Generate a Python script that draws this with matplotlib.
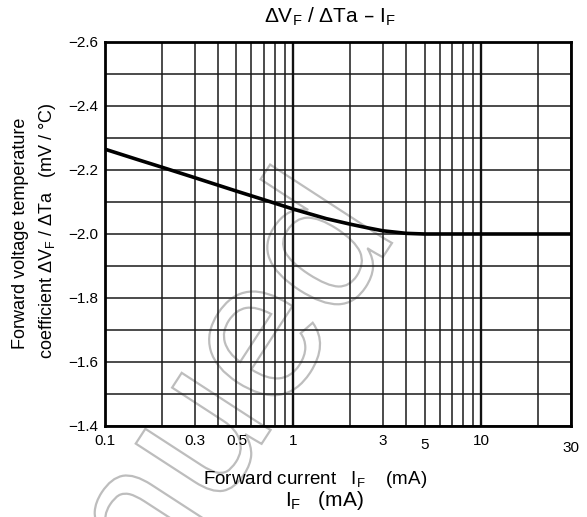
import matplotlib
matplotlib.use("Agg")
import matplotlib.pyplot as plt
import matplotlib.transforms as mtransforms
from matplotlib.textpath import TextPath
from matplotlib.patches import PathPatch
from matplotlib.font_manager import FontProperties
from matplotlib.ticker import FixedLocator, NullFormatter

plt.rcParams['font.family'] = ['Liberation Sans', 'DejaVu Sans']
plt.rcParams['mathtext.default'] = 'regular'

# forward current (mA) and temperature coefficient (mV/°C)
i_f = [0.1, 0.15, 0.2, 0.3, 0.5, 0.7, 1, 1.5, 2, 2.5, 3, 4, 5, 10, 30]
dvf_dta = [-2.265, -2.232, -2.209, -2.176, -2.134, -2.107, -2.078, -2.048,
           -2.031, -2.019, -2.01, -2.002, -2.0, -2.0, -2.0]

x_ticks = [0.1, 0.3, 0.5, 1, 3, 5, 10, 30]
x_tick_labels = ['0.1', '0.3', '0.5', '1', '3', '5', '10', '30']
x_minor = [0.2, 0.4, 0.6, 0.7, 0.8, 0.9, 2, 4, 6, 7, 8, 9, 20]
y_ticks = [-2.6, -2.4, -2.2, -2.0, -1.8, -1.6, -1.4]
y_minor = [-2.5, -2.3, -2.1, -1.9, -1.7, -1.5]

W, H = 587, 517
fig = plt.figure(figsize=(W / 100, H / 100), dpi=100)
ax = fig.add_axes([105 / W, (H - 426) / H, (571 - 105) / W, (426 - 42) / H])

ax.set_xscale('log')
ax.set_xlim(0.1, 30)
ax.set_ylim(-1.4, -2.6)

ax.xaxis.set_major_locator(FixedLocator(x_ticks))
ax.xaxis.set_minor_locator(FixedLocator(x_minor))
ax.xaxis.set_minor_formatter(NullFormatter())
ax.set_xticks(x_ticks, x_tick_labels)
ax.yaxis.set_major_locator(FixedLocator(y_ticks))
ax.yaxis.set_minor_locator(FixedLocator(y_minor))
ax.set_yticks(y_ticks, ['\u2212%.1f' % abs(v) for v in y_ticks])

ax.tick_params(which='both', length=0)
ax.tick_params(axis='x', labelsize=11, pad=6)
ax.tick_params(axis='y', labelsize=11, pad=5)

# grid: thin lines everywhere, heavier at the decades
ax.grid(which='both', axis='both', color='#1a1a1a', linewidth=1.1)
for v in [1, 10]:
    ax.axvline(v, color='#111111', linewidth=1.7, zorder=1.6)

for sp in ax.spines.values():
    sp.set_linewidth(2.0)
    sp.set_color('black')

ax.plot(i_f, dvf_dta, color='black', linewidth=2.6, zorder=3,
        solid_capstyle='butt', solid_joinstyle='round')

# a couple of x labels sit a bit lower
drop = {'5': 4, '30': 7}
for lab in ax.get_xticklabels():
    dy = drop.get(lab.get_text(), 0)
    if dy:
        off = mtransforms.ScaledTranslation(0, -dy / 100, fig.dpi_scale_trans)
        lab.set_transform(lab.get_transform() + off)

# titles and axis labels
fig.text(330 / W, 1 - 17 / H, '\u0394V$_F$ / \u0394Ta \u2013 I$_F$',
         ha='center', va='center', fontsize=15)
fig.text(21 / W, (H - 349) / H, 'Forward voltage temperature',
         rotation=90, ha='center', va='bottom', fontsize=13)
fig.text(47 / W, (H - 359) / H,
         'coefficient \u0394V$_F$ / \u0394Ta   (mV / \u00b0C)',
         rotation=90, ha='center', va='bottom', fontsize=13)
fig.text(315.5 / W, 1 - 480 / H, 'Forward current   I$_F$    (mA)',
         ha='center', va='center', fontsize=13.5)
fig.text(324.5 / W, 1 - 500 / H, 'I$_F$   (mA)',
         ha='center', va='center', fontsize=15)

# outlined stamp across the plot
stamp = TextPath((0, 0), 'Discontinued', size=200,
                 prop=FontProperties(family='Liberation Sans'))
ext = stamp.get_extents()
tr = (mtransforms.Affine2D().translate(-ext.x1, 0).rotate_deg(57)
      .translate(392, H - 243).scale(1 / fig.dpi) + fig.dpi_scale_trans)
ax.add_patch(PathPatch(stamp, facecolor='none', edgecolor='#bdbdbd',
                       linewidth=1.6, transform=tr, clip_on=False, zorder=1.2))

fig.savefig('out.png', dpi=100)
